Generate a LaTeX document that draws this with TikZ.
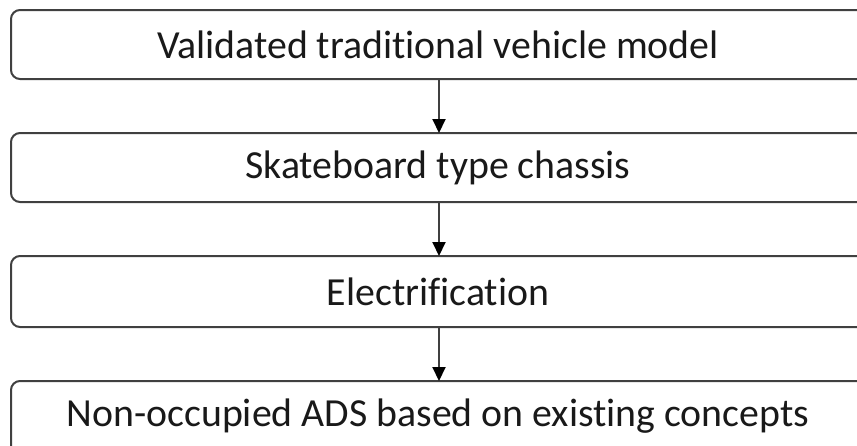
\documentclass[tikz,border=0pt]{standalone}
\usepackage{fontspec}
\setmainfont{Carlito}[RawFeature=-liga]
\usetikzlibrary{arrows.meta}
\begin{document}
\begin{tikzpicture}[x=1pt,y=-1pt,
  stagebox/.style={draw=black!75, line width=2pt, rounded corners=9pt, fill=white},
  stagetext/.style={font=\fontsize{39.8}{46}\selectfont, inner sep=0pt, text=black!90},
  flow/.style={draw=black!75, line width=2pt, -{Triangle[length=14pt,width=13pt,color=black]}}]
\useasboundingbox (0,0) rectangle (857,445);
\begin{scope}
\clip (0,0) rectangle (857,445);
\draw[stagebox] (11,10) rectangle (866,79);
\draw[stagebox] (11,133) rectangle (866,202);
\draw[stagebox] (11,256) rectangle (866,327);
\draw[stagebox] (11,381) rectangle (866,470);
\coordinate (b1) at (439,79);
\coordinate (t2) at (439,133);
\coordinate (b2) at (439,202);
\coordinate (t3) at (439,256);
\coordinate (b3) at (439,327);
\coordinate (t4) at (439,381);
\node[stagetext] (n1) at (438,45) {Validated traditional vehicle model};
\node[stagetext] (n2) at (438,168) {Skateboard type chassis};
\node[stagetext] (n3) at (438,292) {Electrification};
\node[stagetext] (n4) at (438,416) {Non-occupied ADS based on existing concepts};
\draw[flow] (b1) -- (t2);
\draw[flow] (b2) -- (t3);
\draw[flow] (b3) -- (t4);
\end{scope}
\end{tikzpicture}
\end{document}
